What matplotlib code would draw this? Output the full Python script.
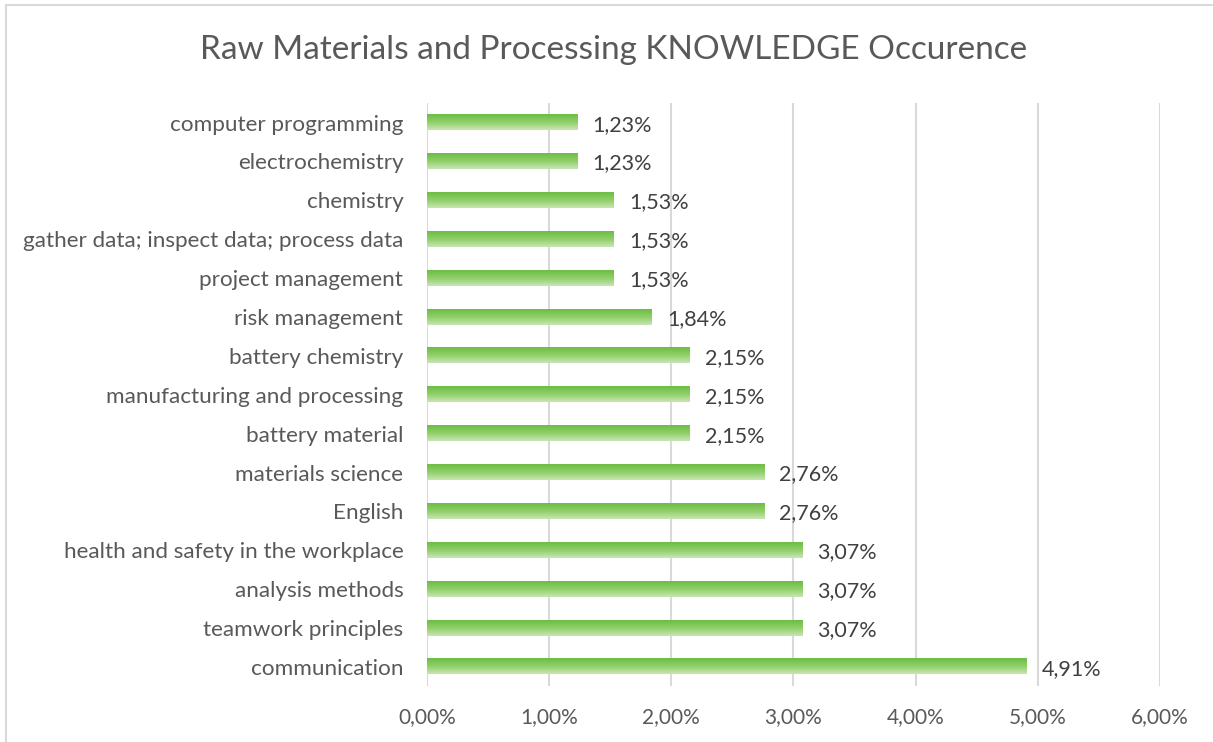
import numpy as np
import matplotlib.pyplot as plt
from matplotlib.colors import LinearSegmentedColormap
from matplotlib.patches import Rectangle

# knowledge areas, bottom to top
categories = ["communication", "teamwork principles", "analysis methods",
              "health and safety in the workplace", "English", "materials science",
              "battery material", "manufacturing and processing", "battery chemistry",
              "risk management", "project management",
              "gather data; inspect data; process data", "chemistry",
              "electrochemistry", "computer programming"]
shares = [4.91, 3.07, 3.07, 3.07, 2.76, 2.76, 2.15, 2.15, 2.15, 1.84, 1.53,
          1.53, 1.53, 1.23, 1.23]
xticks = [0, 1, 2, 3, 4, 5, 6]

plt.rcParams['font.family'] = ['Lato', 'DejaVu Sans']
txt = '#595959'

fig = plt.figure(figsize=(12.13, 7.42), dpi=100)
ax = fig.add_axes([0.352, 0.075, 0.6043, 0.786])

# green gradient, darker at the top of each bar
grad = LinearSegmentedColormap.from_list('g', ['#6cbd45', '#8fcf68', '#c8e5b4'])
g = np.linspace(0, 1, 64).reshape(-1, 1)
h = 0.39
for i, v in enumerate(shares):
    ax.imshow(g, cmap=grad, aspect='auto', extent=(0, v, i - h / 2, i + h / 2),
              zorder=2, interpolation='bilinear')
    ax.annotate(f"{v:.2f}%".replace('.', ','), (v, i), xytext=(11, -1.5),
                textcoords='offset points', va='center', ha='left',
                fontsize=15.5, color='#404040')

ax.set_xlim(0, 6)
ax.set_ylim(-0.5, len(categories) - 0.5)
ax.set_xticks(xticks)
ax.set_xticklabels([f"{x},00%" for x in xticks], fontsize=15, color=txt)
ax.set_yticks(range(len(categories)))
ax.set_yticklabels(categories, fontsize=16.2, color=txt)
ax.tick_params(length=0)
ax.tick_params(axis='y', pad=17)
ax.tick_params(axis='x', pad=15)
ax.grid(axis='x', color='#d9d9d9', linewidth=1.5, zorder=0)
for s in ax.spines.values():
    s.set_visible(False)

fig.text(0.506, 0.933, "Raw Materials and Processing KNOWLEDGE Occurence",
         ha='center', va='center', fontsize=24, color=txt)
fig.patches.append(Rectangle((0.005, -0.01), 1.2, 1.003, transform=fig.transFigure,
                             fill=False, edgecolor='#d9d9d9', linewidth=1.5))

fig.savefig('out.png', dpi=100)
